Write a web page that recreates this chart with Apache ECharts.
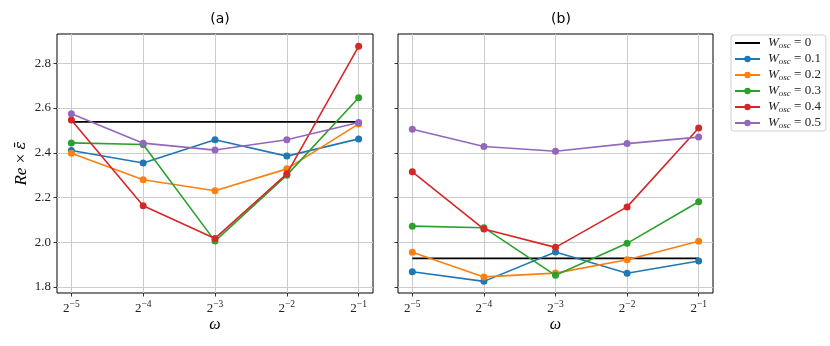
<!DOCTYPE html>
<html>
<head>
<meta charset="utf-8">
<script src="https://cdn.jsdelivr.net/npm/echarts@6/dist/echarts.min.js"></script>
<style>
html,body{margin:0;padding:0;background:#fff;}
#chart{width:830px;height:346px;}
</style>
</head>
<body>
<div id="chart"></div>
<script>
// x positions are log2(omega)
var xExps = [-5, -4, -3, -2, -1];
var yTicks = [1.8, 2.0, 2.2, 2.4, 2.6, 2.8];
var wNames = ["0", "0.1", "0.2", "0.3", "0.4", "0.5"];
var COLORS = ["#000000", "#1f77b4", "#ff7f0e", "#2ca02c", "#d62728", "#9467bd"];

// panel (a)
var a_w0 = [2.538, 2.538, 2.538, 2.538, 2.538];
var a_w01 = [2.410, 2.354, 2.458, 2.385, 2.462];
var a_w02 = [2.398, 2.279, 2.230, 2.328, 2.529];
var a_w03 = [2.444, 2.437, 2.005, 2.300, 2.646];
var a_w04 = [2.546, 2.163, 2.017, 2.306, 2.876];
var a_w05 = [2.574, 2.443, 2.412, 2.458, 2.535];

// panel (b)
var b_w0 = [1.928, 1.928, 1.928, 1.928, 1.928];
var b_w01 = [1.868, 1.825, 1.956, 1.861, 1.916];
var b_w02 = [1.955, 1.845, 1.862, 1.922, 2.004];
var b_w03 = [2.072, 2.065, 1.852, 1.995, 2.181];
var b_w04 = [2.315, 2.059, 1.977, 2.158, 2.511];
var b_w05 = [2.505, 2.428, 2.407, 2.441, 2.470];

var panelA = [a_w0, a_w01, a_w02, a_w03, a_w04, a_w05];
var panelB = [b_w0, b_w01, b_w02, b_w03, b_w04, b_w05];

var SERIF = "'Liberation Serif', serif";
var GRID_COLOR = "#cccccc";

function pairs(ys) {
	return ys.map(function(y, i) {
		return [xExps[i], y];
	});
}

function makeXAxis(idx) {
	return {
		type: "value",
		gridIndex: idx,
		min: -5.2,
		max: -0.8,
		name: "ω",
		nameLocation: "middle",
		nameGap: 24,
		nameMoveOverlap: false,
		nameTextStyle: { fontFamily: SERIF, fontStyle: "italic", fontSize: 16, color: "#000" },
		axisLine: { show: false },
		axisTick: { show: true, customValues: xExps, length: 3.5, lineStyle: { color: "#000", width: 0.8 } },
		axisLabel: {
			customValues: xExps,
			margin: 6,
			formatter: function(v) {
				return "{b|2}{s|−" + Math.abs(v) + "}";
			},
			rich: {
				b: { fontFamily: SERIF, fontSize: 13, color: "#222", verticalAlign: "bottom", lineHeight: 16 },
				s: { fontFamily: SERIF, fontSize: 9.5, color: "#222", verticalAlign: "top", lineHeight: 16 }
			}
		},
		splitLine: { show: true, lineStyle: { color: GRID_COLOR, width: 1 } }
	};
}

function makeYAxis(idx, showLabels) {
	return {
		type: "value",
		gridIndex: idx,
		min: 1.773,
		max: 2.931,
		name: showLabels ? "{i|Re} {t|×} {e|ε̄}" : "",
		nameLocation: "middle",
		nameGap: 27,
		nameMoveOverlap: false,
		nameRotate: 90,
		nameTextStyle: {
			fontFamily: SERIF,
			fontSize: 17,
			color: "#000",
			rich: {
				i: { fontFamily: SERIF, fontStyle: "italic", fontSize: 17, color: "#000" },
				t: { fontFamily: SERIF, fontSize: 17, color: "#000" },
				e: { fontFamily: "'DejaVu Serif', serif", fontStyle: "italic", fontSize: 15, color: "#000" }
			}
		},
		axisLine: { show: false },
		axisTick: { show: true, customValues: yTicks, length: 3.5, lineStyle: { color: "#000", width: 0.8 } },
		axisLabel: {
			show: showLabels,
			customValues: yTicks,
			margin: 6,
			fontFamily: SERIF,
			fontSize: 13,
			color: "#222",
			formatter: function(v) { return v.toFixed(1); }
		},
		splitLine: { show: true, lineStyle: { color: GRID_COLOR, width: 1 } }
	};
}

function makeSeries(data, gridIdx) {
	return data.map(function(ys, k) {
		var isRef = k === 0;
		return {
			name: wNames[k],
			type: "line",
			xAxisIndex: gridIdx,
			yAxisIndex: gridIdx,
			data: pairs(ys),
			symbol: isRef ? "none" : "circle",
			symbolSize: 7,
			showSymbol: !isRef,
			color: COLORS[k],
			lineStyle: { width: 1.6, color: COLORS[k] },
			itemStyle: { color: COLORS[k] },
			z: 3 + k
		};
	});
}

var legendData = wNames.map(function(n, k) {
	if (k === 0) {
		return { name: n, itemStyle: { color: "rgba(0,0,0,0)", opacity: 0, borderWidth: 0 } };
	}
	return { name: n };
});

var chart = echarts.init(document.getElementById("chart"), null, { renderer: "canvas" });
var titleStyle = { fontFamily: "'DejaVu Sans', sans-serif", fontSize: 14, fontWeight: "normal", color: "#000" };
var option = {
	animation: false,
	backgroundColor: "#fff",
	title: [
		{ text: "(a)", left: 215, top: 7, textAlign: "center", textStyle: titleStyle },
		{ text: "(b)", left: 556, top: 7, textAlign: "center", textStyle: titleStyle }
	],
	grid: [
		{ left: 57, top: 34, width: 316, height: 259, show: true, borderColor: "#000", borderWidth: 1, backgroundColor: "transparent", containLabel: false },
		{ left: 398, top: 34, width: 315, height: 259, show: true, borderColor: "#000", borderWidth: 1, backgroundColor: "transparent", containLabel: false }
	],
	xAxis: [makeXAxis(0), makeXAxis(1)],
	yAxis: [makeYAxis(0, true), makeYAxis(1, false)],
	legend: {
		data: legendData,
		orient: "vertical",
		left: 731,
		top: 35,
		padding: [1, 5, 1, 3],
		itemGap: 2,
		itemWidth: 25,
		itemHeight: 8,
		backgroundColor: "#fff",
		borderColor: "#d0d0d0",
		borderWidth: 1,
		borderRadius: 3,
		formatter: function(name) {
			return "{w|W}{s|osc}{t| = " + name + "}";
		},
		textStyle: {
			padding: [0, 0, 0, 3],
			rich: {
				w: { fontFamily: SERIF, fontStyle: "italic", fontSize: 13, color: "#222", verticalAlign: "top", lineHeight: 14 },
				s: { fontFamily: SERIF, fontStyle: "italic", fontSize: 9, color: "#222", verticalAlign: "bottom", lineHeight: 14 },
				t: { fontFamily: SERIF, fontSize: 13, color: "#222", verticalAlign: "top", lineHeight: 14 }
			}
		}
	},
	series: makeSeries(panelA, 0).concat(makeSeries(panelB, 1))
};
chart.setOption(option);
</script>
</body>
</html>
